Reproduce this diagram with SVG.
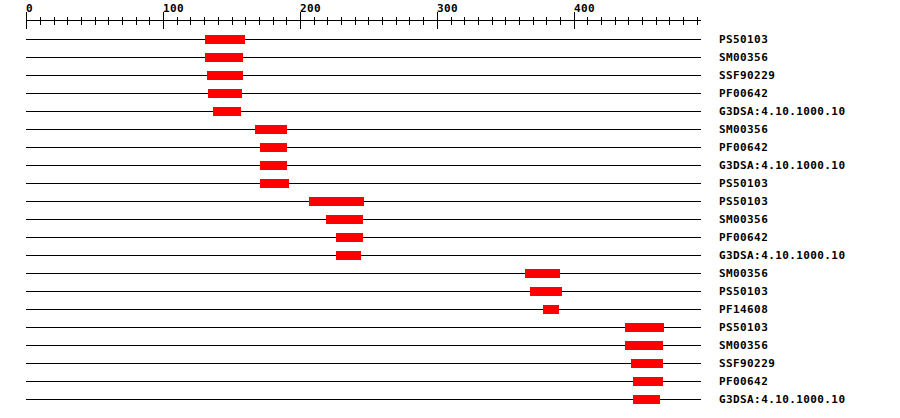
<svg xmlns="http://www.w3.org/2000/svg" width="900" height="418" viewBox="0 0 900 418">
<style>
.t{font-family:"DejaVu Sans Mono","Liberation Mono",monospace;font-weight:bold;font-size:11px;letter-spacing:0.4px;fill:#000}
.ln{stroke:#000;stroke-width:1;fill:none;shape-rendering:crispEdges}
.bar{fill:#ff0000;shape-rendering:crispEdges}
</style>
<rect width="900" height="418" fill="#fff"/>
<g id="ruler">
<path class="ln" d="M26 20.5H701"/>
<path class="ln" d="M26.5 12V29M163.5 12V29M300.5 12V29M437.5 12V29M574.5 12V29"/>
<path class="ln" d="M40.5 17V25M54.5 17V25M67.5 17V25M81.5 17V25M95.5 17V25M108.5 17V25M122.5 17V25M136.5 17V25M149.5 17V25M177.5 17V25M190.5 17V25M204.5 17V25M218.5 17V25M232.5 17V25M245.5 17V25M259.5 17V25M273.5 17V25M286.5 17V25M314.5 17V25M327.5 17V25M341.5 17V25M355.5 17V25M368.5 17V25M382.5 17V25M396.5 17V25M409.5 17V25M423.5 17V25M451.5 17V25M464.5 17V25M478.5 17V25M492.5 17V25M505.5 17V25M519.5 17V25M533.5 17V25M546.5 17V25M560.5 17V25M587.5 17V25M601.5 17V25M615.5 17V25M628.5 17V25M642.5 17V25M656.5 17V25M669.5 17V25M683.5 17V25M697.5 17V25"/>
<text class="t" x="26" y="12">0</text>
<text class="t" x="163" y="12">100</text>
<text class="t" x="300" y="12">200</text>
<text class="t" x="437" y="12">300</text>
<text class="t" x="574" y="12">400</text>
</g>
<g id="tracks">
<path class="ln" d="M26 39.5H701M26 57.5H701M26 75.5H701M26 93.5H701M26 111.5H701M26 129.5H701M26 147.5H701M26 165.5H701M26 183.5H701M26 201.5H701M26 219.5H701M26 237.5H701M26 255.5H701M26 273.5H701M26 291.5H701M26 309.5H701M26 327.5H701M26 345.5H701M26 363.5H701M26 381.5H701M26 399.5H701"/>
</g>
<g id="row1"><rect class="bar" x="205" y="35" width="40" height="9"/><text class="t" x="719" y="42.5">PS50103</text></g>
<g id="row2"><rect class="bar" x="205" y="53" width="38" height="9"/><text class="t" x="719" y="60.5">SM00356</text></g>
<g id="row3"><rect class="bar" x="207" y="71" width="36" height="9"/><text class="t" x="719" y="78.5">SSF90229</text></g>
<g id="row4"><rect class="bar" x="208" y="89" width="34" height="9"/><text class="t" x="719" y="96.5">PF00642</text></g>
<g id="row5"><rect class="bar" x="213" y="107" width="28" height="9"/><text class="t" x="719" y="114.5">G3DSA:4.10.1000.10</text></g>
<g id="row6"><rect class="bar" x="255" y="125" width="32" height="9"/><text class="t" x="719" y="132.5">SM00356</text></g>
<g id="row7"><rect class="bar" x="260" y="143" width="27" height="9"/><text class="t" x="719" y="150.5">PF00642</text></g>
<g id="row8"><rect class="bar" x="260" y="161" width="27" height="9"/><text class="t" x="719" y="168.5">G3DSA:4.10.1000.10</text></g>
<g id="row9"><rect class="bar" x="260" y="179" width="29" height="9"/><text class="t" x="719" y="186.5">PS50103</text></g>
<g id="row10"><rect class="bar" x="309" y="197" width="55" height="9"/><text class="t" x="719" y="204.5">PS50103</text></g>
<g id="row11"><rect class="bar" x="326" y="215" width="37" height="9"/><text class="t" x="719" y="222.5">SM00356</text></g>
<g id="row12"><rect class="bar" x="336" y="233" width="27" height="9"/><text class="t" x="719" y="240.5">PF00642</text></g>
<g id="row13"><rect class="bar" x="336" y="251" width="25" height="9"/><text class="t" x="719" y="258.5">G3DSA:4.10.1000.10</text></g>
<g id="row14"><rect class="bar" x="525" y="269" width="35" height="9"/><text class="t" x="719" y="276.5">SM00356</text></g>
<g id="row15"><rect class="bar" x="530" y="287" width="32" height="9"/><text class="t" x="719" y="294.5">PS50103</text></g>
<g id="row16"><rect class="bar" x="543" y="305" width="16" height="9"/><text class="t" x="719" y="312.5">PF14608</text></g>
<g id="row17"><rect class="bar" x="625" y="323" width="39" height="9"/><text class="t" x="719" y="330.5">PS50103</text></g>
<g id="row18"><rect class="bar" x="625" y="341" width="38" height="9"/><text class="t" x="719" y="348.5">SM00356</text></g>
<g id="row19"><rect class="bar" x="631" y="359" width="32" height="9"/><text class="t" x="719" y="366.5">SSF90229</text></g>
<g id="row20"><rect class="bar" x="633" y="377" width="30" height="9"/><text class="t" x="719" y="384.5">PF00642</text></g>
<g id="row21"><rect class="bar" x="633" y="395" width="27" height="9"/><text class="t" x="719" y="402.5">G3DSA:4.10.1000.10</text></g>
</svg>
